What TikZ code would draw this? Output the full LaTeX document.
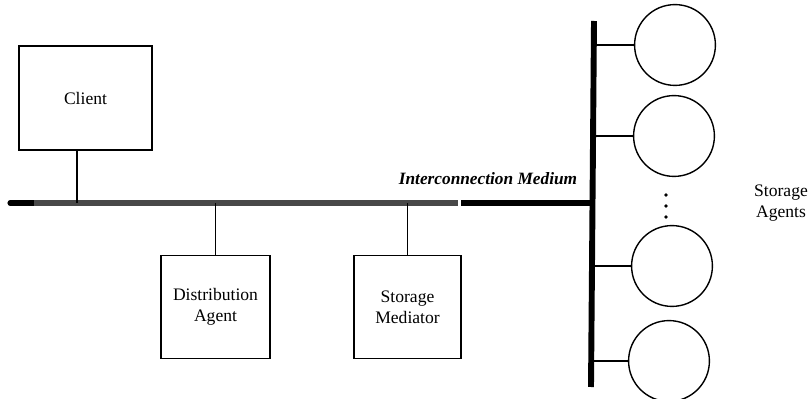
\documentclass[tikz,border=0pt]{standalone}
\usepackage{fontspec}
\setmainfont{Liberation Serif}
\usetikzlibrary{positioning, calc}
\definecolor{busgray}{HTML}{484848}

\begin{document}
\begin{tikzpicture}[
  x=0.025cm, y=-0.025cm,
  box/.style={draw, line width=1pt, inner sep=0pt, align=center, font=\fontsize{12.5}{15}\selectfont},
  agent/.style={draw, circle, line width=1pt, minimum size=2.02cm, inner sep=0pt},
  bus/.style={line width=3.6pt},
  tap/.style={line width=0.9pt}
]
  \useasboundingbox (0,0) rectangle (810,399);

  % Boxes on the horizontal bus
  \node[box, minimum width=3.33cm, minimum height=2.6cm] (client) at (85.5,98) {Client};
  \node[box, minimum width=2.72cm, minimum height=2.58cm] (dist) at (215.5,307) {Distribution\\Agent};
  \node[box, minimum width=2.68cm, minimum height=2.58cm] (med) at (407.5,307) {Storage\\Mediator};

  % Interconnection medium
  \coordinate (busL) at (10,203);
  \coordinate (grayL) at (34,203);
  \coordinate (grayR) at (458,203);
  \coordinate (blackR) at (461,203);
  \coordinate (joint) at (593,203);
  \coordinate (vtop) at (594,21);
  \coordinate (vbot) at (591,387);
  \draw[bus, line cap=round] (busL) -- (grayL);
  \draw[bus, busgray] (grayL) -- (grayR);
  \draw[bus] (blackR) -- (joint);
  \draw[bus, line width=4.2pt] (vtop) -- (vbot);
  \node[font=\fontsize{12.3}{14}\selectfont\bfseries\itshape, anchor=south] (medium) at (488,190) {Interconnection Medium};

  % Taps from the boxes
  \coordinate (tapC) at (77,203);
  \draw[tap] (tapC) -- (tapC |- client.south);
  \draw[tap] (dist.north) -- (dist.north |- busL);
  \draw[tap] (med.north) -- (med.north |- busL);

  % Storage agents
  \node[agent] (sa1) at (675,45) {};
  \node[agent] (sa2) at (674,136) {};
  \node[agent] (sa3) at (672,266) {};
  \node[agent] (sa4) at (669,361) {};
  \foreach \a in {sa1,sa2,sa3,sa4}
    \draw[tap] (\a.west) -- (\a.west -| vtop);

  % Dots between the agents
  \foreach \y [count=\i] in {195,206,217}
    \fill (666,\y) circle (1.3pt) coordinate (dot\i);

  \node[font=\fontsize{12.5}{15}\selectfont, align=center] (salabel) at (781,203) {Storage\\Agents};

\end{tikzpicture}
\end{document}
